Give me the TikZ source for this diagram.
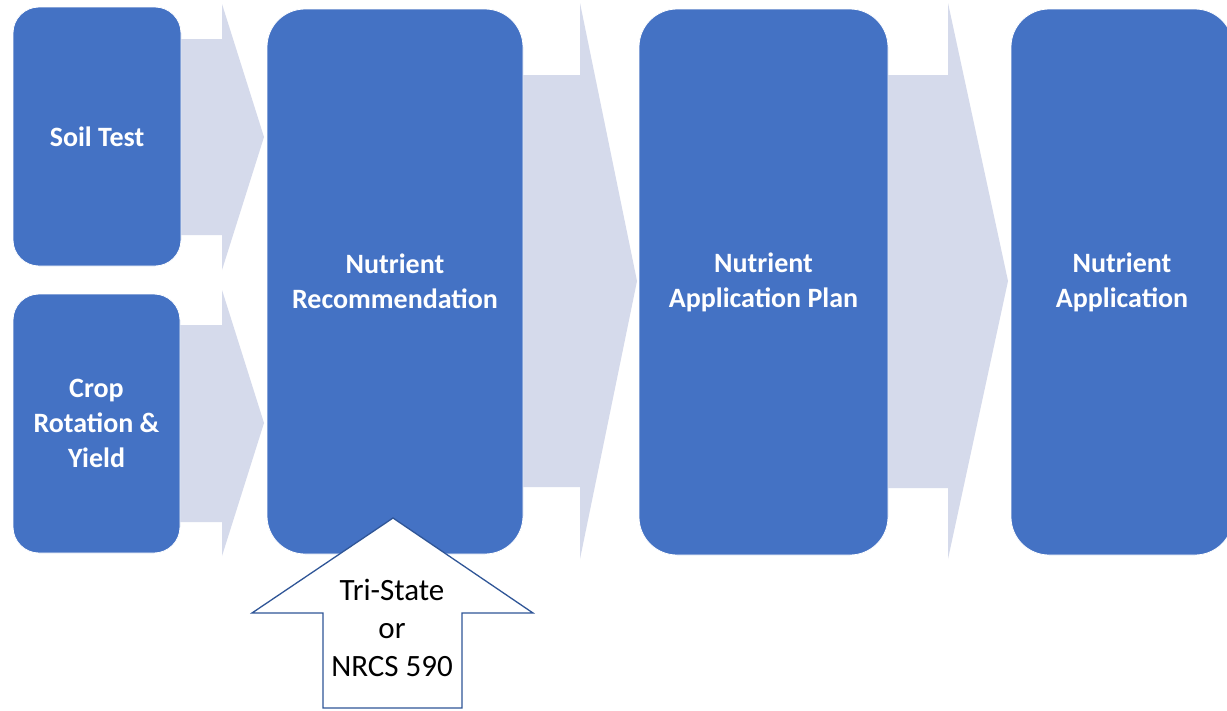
\documentclass[tikz,border=0pt]{standalone}
\usepackage{fontspec}
\setmainfont{Carlito}
\definecolor{boxblue}{HTML}{4472C4}
\definecolor{arrowlav}{HTML}{D5DAEB}
\definecolor{edgeblue}{HTML}{2F5597}
\begin{document}
\begin{tikzpicture}[x=1pt,y=-1pt,
  stagebox/.style={draw=white, line width=0.8pt, fill=boxblue, rounded corners=#1, inner sep=0pt,
    text=white, align=center, font=\fontsize{28}{35}\selectfont\bfseries},
  stagebox/.default=30pt,
  flowarrow/.style={fill=arrowlav, draw=none},
  inarrow/.style={fill=white, draw=edgeblue, line width=1.3pt, line join=miter}]
\useasboundingbox (0,0) rectangle (1227,710);
\fill[white] (0,0) rectangle (1227,710);
% block arrows (behind boxes)
\path[flowarrow] (170,39) -- (222,39) -- (222,4) -- (264,137) -- (222,270) -- (222,235) -- (170,235) -- cycle;
\path[flowarrow] (170,325) -- (222,325) -- (222,290) -- (264,423) -- (222,556) -- (222,522) -- (170,522) -- cycle;
\path[flowarrow] (510,75) -- (580,75) -- (580,3) -- (637,281) -- (580,559) -- (580,487) -- (510,487) -- cycle;
\path[flowarrow] (875,75) -- (948,75) -- (948,3) -- (1008,281) -- (948,559) -- (948,488) -- (875,488) -- cycle;
% stage boxes
\node[stagebox=26pt, minimum width=168pt, minimum height=259pt] (soil) at (97,136.5) {Soil Test};
\node[stagebox=26pt, minimum width=167pt, minimum height=259pt] (crop) at (96.5,423.5) {Crop\\Rotation \&\\Yield};
\node[stagebox=38pt, minimum width=256pt, minimum height=545pt] (rec) at (395,281.5) {Nutrient\\Recommendation};
\node[stagebox=38pt, minimum width=249pt, minimum height=546pt] (plan) at (763.5,282) {Nutrient\\Application Plan};
\node[stagebox=38pt, minimum width=222pt, minimum height=546pt] (app) at (1122,282) {Nutrient\\Application};
% input arrow
\path[inarrow] (393,518) -- (533,613) -- (462,613) -- (462,708) -- (323,708) -- (323,613) -- (252,613) -- cycle;
\node[align=center, inner sep=0pt, font=\fontsize{31}{38}\selectfont, text=black] (tri) at (392,628) {Tri-State\\or\\NRCS 590};
\end{tikzpicture}
\end{document}
